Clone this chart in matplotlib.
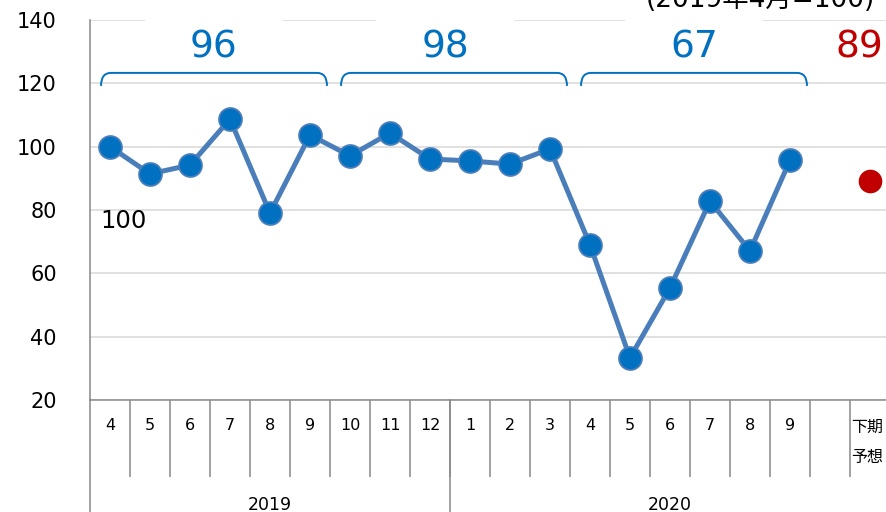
import numpy as np
import matplotlib.pyplot as plt
from matplotlib.path import Path
from matplotlib.patches import PathPatch, Rectangle

# monthly index (2019/4 = 100)
months = ['4', '5', '6', '7', '8', '9', '10', '11', '12', '1', '2', '3',
          '4', '5', '6', '7', '8', '9']
index_values = [100, 91.4, 94.2, 108.7, 79.0, 103.7, 97.1, 104.3, 96.1,
                95.5, 94.5, 99.3, 69.0, 33.3, 55.4, 82.8, 67.1, 95.7]
forecast_label = '下期\n予想'
forecast_value = 89.2
forecast_text = '89'

# half-year averages
half_starts = [0, 6, 12]
half_avgs = [96, 98, 67]
label_dx = [2.6, 2.375, 2.6]

years = ['2019', '2020']
year_bounds = [-0.5, 8.5, 19.5]

note = '(2019年4月=100)'

blue_line = '#4a7ebb'
blue = '#0070c0'
red = '#c00000'
gray = '#898989'

fig = plt.figure(figsize=(8.86, 5.12), dpi=100)
ax = fig.add_axes([90 / 886, 112 / 512, 800 / 886, 380 / 512])

x = np.arange(len(months))
fx = len(months) + 1
n_cat = len(months) + 2

ax.set_xlim(-0.5, n_cat - 0.5)
ax.set_ylim(20, 140)
ax.set_yticks(range(20, 141, 20))
ax.grid(axis='y', color='#d9d9d9', lw=1.1)
ax.set_axisbelow(True)

ax.plot(x, index_values, color=blue_line, lw=3.6, marker='o', ms=16.5,
        mfc=blue, mec=blue_line, mew=1.3, zorder=3, clip_on=False)
ax.plot([fx], [forecast_value], 'o', color=red, ms=16, zorder=3)

# first point label
ax.text(-0.25, 74.3, str(index_values[0]), ha='left', va='baseline', fontsize=17.5)

# brackets + averages
yt, yb, rx = 123.3, 119.2, 0.25
for s, v, dx in zip(half_starts, half_avgs, label_dx):
    x0 = s - 0.225
    x1 = s + 5.425
    verts = [(x0, yb), (x0, yt), (x0 + rx, yt), (x1 - rx, yt), (x1, yt), (x1, yb)]
    codes = [Path.MOVETO, Path.CURVE3, Path.CURVE3, Path.LINETO, Path.CURVE3, Path.CURVE3]
    ax.add_patch(PathPatch(Path(verts, codes), fill=False, ec=blue, lw=1.4, zorder=2))
    ax.add_patch(Rectangle((s + dx - 1.725, 138), 3.45, 4, fc='white', ec='none',
                           zorder=1, clip_on=False))
    ax.text(s + dx, 128.0, str(v), ha='center', va='baseline', fontsize=27, color=blue)

ax.text(fx - 0.85, 128.0, forecast_text, ha='left', va='baseline', fontsize=27, color=red)

# axes styling
for sp in ['top', 'right']:
    ax.spines[sp].set_visible(False)
for sp in ['left', 'bottom']:
    ax.spines[sp].set_color(gray)
    ax.spines[sp].set_linewidth(1.1)

ax.tick_params(axis='y', length=0, pad=24, labelsize=15)
ax.set_xticks(np.arange(n_cat))
ax.set_xticklabels(months + ['', ''])
ax.set_xticks(np.arange(0.5, n_cat - 1, 1), minor=True)
ax.tick_params(axis='x', which='major', length=0, pad=13, labelsize=11.5)
ax.tick_params(axis='x', which='minor', length=55.4, width=1.1, color=gray)

trans = ax.get_xaxis_transform()
for b in year_bounds:
    ax.plot([b, b], [0, -0.3], transform=trans, color=gray, lw=1.1, clip_on=False)
for i, yr in enumerate(years):
    ax.text((year_bounds[i] + year_bounds[i + 1]) / 2, -0.289, yr, transform=trans,
            ha='center', va='baseline', fontsize=12.5)

ax.text(fx - 0.5 + 0.04, -0.05, forecast_label, transform=trans, ha='left', va='top',
        fontsize=11.5, linespacing=2.0, family=['Noto Sans CJK JP', 'DejaVu Sans'])

fig.text(875 / 886, 1 - 7 / 512, note, ha='right', va='baseline', fontsize=19,
         family=['DejaVu Sans', 'Noto Sans CJK JP'])

fig.savefig('out.png', dpi=100)
